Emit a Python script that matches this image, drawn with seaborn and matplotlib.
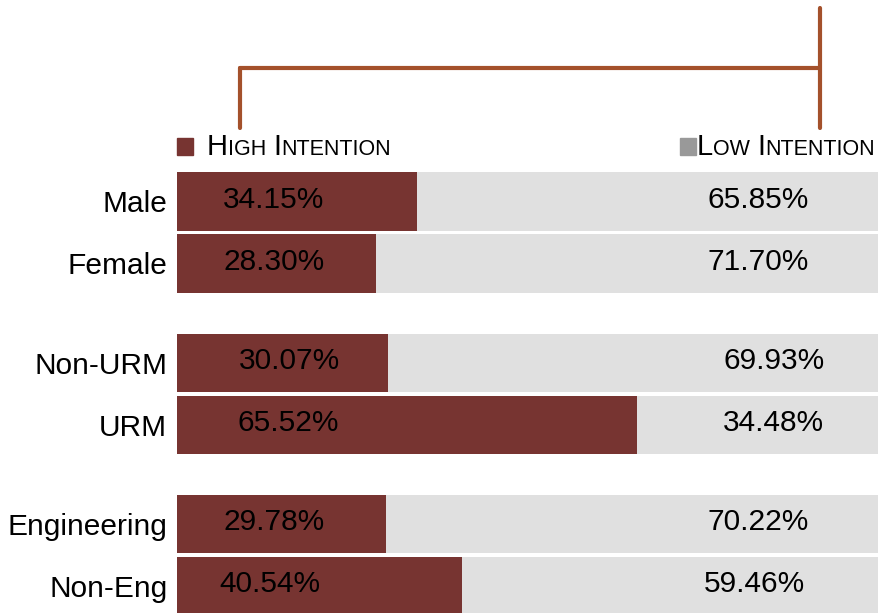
import matplotlib
matplotlib.use("Agg")
import matplotlib.pyplot as plt
from matplotlib.lines import Line2D
from matplotlib.patches import Rectangle
import seaborn as sns
import pandas as pd

# data
groups = ["Male", "Female", "Non-URM", "URM", "Engineering", "Non-Eng"]
high = [34.15, 28.30, 30.07, 65.52, 29.78, 40.54]
low = [65.85, 71.70, 69.93, 34.48, 70.22, 59.46]
# row positions (gap between the three pairs)
pos = [0, 1, 2.6, 3.6, 5.2, 6.2]

df = pd.DataFrame({"group": groups, "high": high, "low": low, "pos": pos})
df["total"] = df["high"] + df["low"]

brown = "#773431"
grey = "#E0E0E0"
bracket = "#A4512B"

sns.set_style("white")
plt.rcParams["font.family"] = ["Liberation Sans", "DejaVu Sans"]

fig = plt.figure(figsize=(8.79, 6.13), dpi=100)
ax = fig.add_axes([177 / 879, 0, 702 / 879, 443 / 613])

sns.barplot(data=df, x="total", y="pos", orient="y", native_scale=True,
            color=grey, width=0.94, saturation=1, errorbar=None, linewidth=0, ax=ax)
sns.barplot(data=df, x="high", y="pos", orient="y", native_scale=True,
            color=brown, width=0.94, saturation=1, errorbar=None, linewidth=0, ax=ax)

ax.set_xlim(0, 100)
ax.set_ylim(6.637, -0.508)
ax.set_xlabel("")
ax.set_ylabel("")
ax.set_xticks([])
ax.set_yticks(pos)
ax.set_yticklabels(groups, fontsize=21.5, color="black")
ax.tick_params(axis="y", length=0, pad=7)
sns.despine(ax=ax, left=True, bottom=True, top=True, right=True)

# value labels
shift = [0, 0, 2.2, 2.1, 0, -0.6]
for p, h, l, s in zip(pos, high, low, shift):
    ax.text(13.8 + s, p - 0.03, f"{h:.2f}%", ha="center", va="center", fontsize=21.5, color="black")
    ax.text(82.8 + s, p - 0.03, f"{l:.2f}%", ha="center", va="center", fontsize=21.5, color="black")

# bracket on top
W, H = 879, 613
def fx(px):
    return px / W
def fy(py):
    return 1 - py / H
lw = 3
fig.add_artist(Line2D([fx(240), fx(240)], [fy(128), fy(68)], color=bracket, lw=lw))
fig.add_artist(Line2D([fx(240), fx(820)], [fy(68), fy(68)], color=bracket, lw=lw))
fig.add_artist(Line2D([fx(820), fx(820)], [fy(8), fy(128)], color=bracket, lw=lw))

# legend with small caps text
fig.add_artist(Rectangle((fx(177), fy(155)), 16 / W, 17 / H, color=brown, transform=fig.transFigure))
fig.add_artist(Rectangle((fx(680), fy(155)), 16 / W, 17 / H, color="#999999", transform=fig.transFigure))

renderer = fig.canvas.get_renderer()
big, small = 21, 15.5

def small_caps(x_px, y_px, words):
    x = x_px
    for i, w in enumerate(words):
        for txt, size in [(w[0], big), (w[1:].upper(), small)]:
            t = fig.text(fx(x), fy(y_px), txt, fontsize=size, ha="left", va="baseline",
                         color="black")
            x += t.get_window_extent(renderer).width
        x += 7

small_caps(207, 155, ["High", "Intention"])
small_caps(697, 155, ["Low", "Intention"])

fig.savefig("out.png", dpi=100)
